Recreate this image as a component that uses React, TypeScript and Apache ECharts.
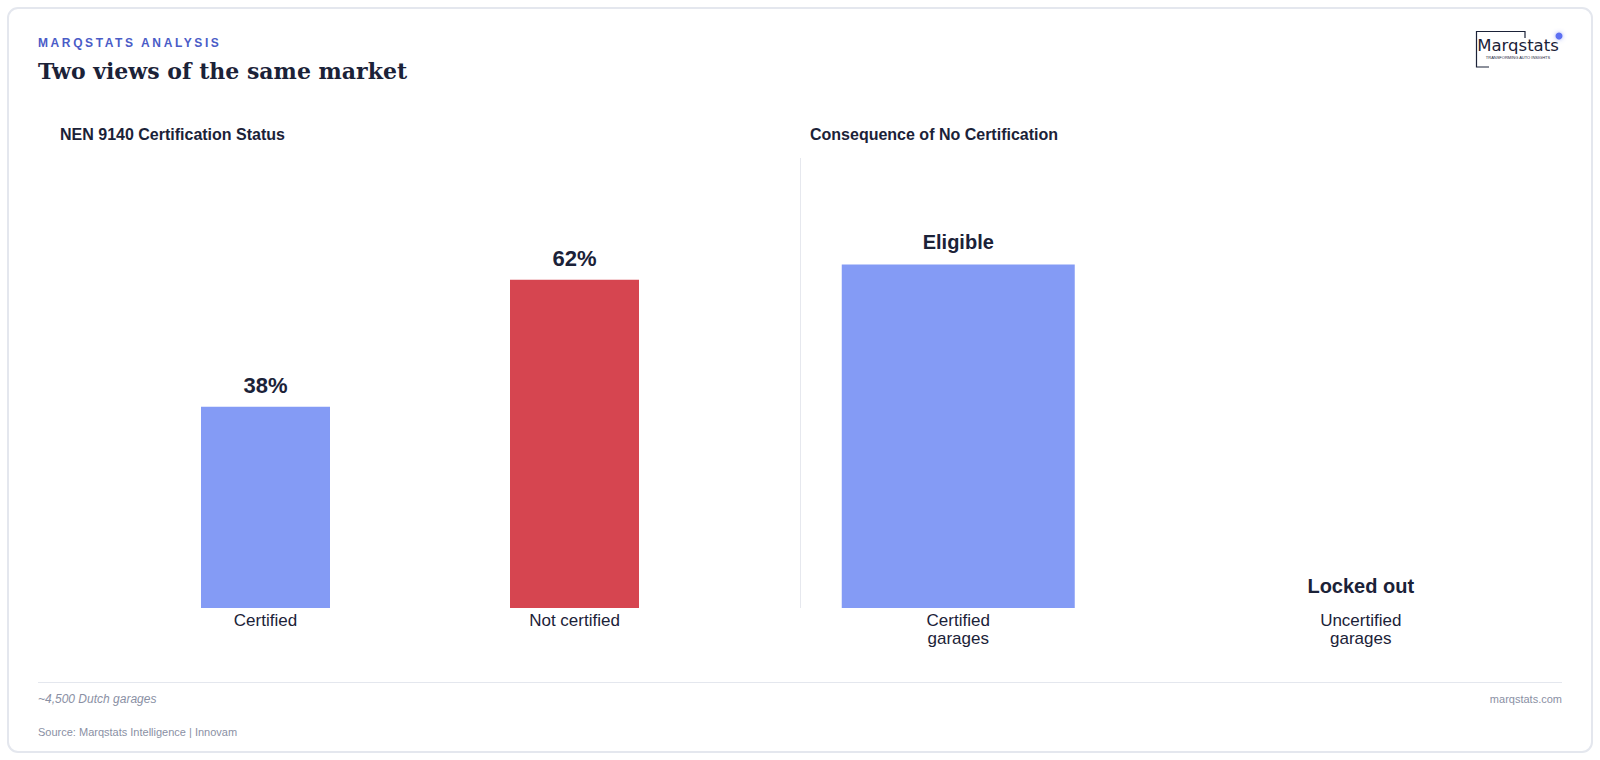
import React, { useEffect, useRef } from "react";
import * as echarts from "echarts";

const leftCategories = ["Certified", "Not certified"];
const leftValues = [38, 62];
const rightCategories = ["Certified\ngarages", "Uncertified\ngarages"];
const rightValues = [100, 0];
const rightLabels = ["Eligible", "Locked out"];

const BLUE = "#849BF5";
const RED = "#D64550";
const INK = "#1B2238";
const MUTED = "#8A90A4";
const SANS = "'Liberation Sans', Arial, sans-serif";

export default function App() {
  const ref = useRef<HTMLDivElement>(null);
  useEffect(() => {
    document.body.style.margin = "0";
    const chart = echarts.init(ref.current!, null, { renderer: "svg" });
    chart.setOption({
      animation: false,
      backgroundColor: "#ffffff",
      grid: [
        { left: 111, width: 618, top: 158, height: 450 },
        { left: 757, width: 805, top: 158, height: 450 },
      ],
      xAxis: [
        {
          type: "category",
          gridIndex: 0,
          data: leftCategories,
          axisLine: { show: false },
          axisTick: { show: false },
          axisLabel: { color: INK, fontSize: 17, fontFamily: SANS, margin: 3, lineHeight: 18 },
        },
        {
          type: "category",
          gridIndex: 1,
          data: rightCategories,
          axisLine: { show: false },
          axisTick: { show: false },
          axisLabel: { color: INK, fontSize: 17, fontFamily: SANS, margin: 3, lineHeight: 18 },
        },
      ],
      yAxis: [
        { type: "value", gridIndex: 0, min: 0, max: 85, show: false, splitLine: { show: false } },
        { type: "value", gridIndex: 1, min: 0, max: 131, show: false, splitLine: { show: false } },
      ],
      series: [
        {
          type: "bar",
          xAxisIndex: 0,
          yAxisIndex: 0,
          barWidth: 129,
          data: leftValues.map((v, i) => ({
            value: v,
            itemStyle: { color: i === 0 ? BLUE : RED },
          })),
          label: {
            show: true,
            position: "top",
            distance: 10,
            formatter: "{c}%",
            color: INK,
            fontSize: 22,
            fontWeight: "bold",
            fontFamily: SANS,
          },
        },
        {
          type: "bar",
          xAxisIndex: 1,
          yAxisIndex: 1,
          barWidth: 233,
          data: rightValues.map((v) => ({ value: v, itemStyle: { color: BLUE } })),
          label: {
            show: true,
            position: "top",
            distance: 12,
            formatter: (p: any) => rightLabels[p.dataIndex],
            color: INK,
            fontSize: 20,
            fontWeight: "bold",
            fontFamily: SANS,
          },
        },
      ],
      graphic: [
        {
          type: "rect",
          z: -10,
          shape: { x: 8, y: 8, width: 1584, height: 744, r: 10 },
          style: { fill: "#ffffff", stroke: "#E4E7EE", lineWidth: 2 },
          silent: true,
        },
        {
          type: "text",
          x: 38,
          y: 71,
          style: {
            text: "Two views of the same market",
            fill: INK,
            font: "bold 22px 'DejaVu Serif', serif",
            verticalAlign: "middle",
          },
        },
        {
          type: "text",
          x: 60,
          y: 134,
          style: {
            text: "NEN 9140 Certification Status",
            fill: INK,
            font: "bold 16px " + SANS,
            verticalAlign: "middle",
          },
        },
        {
          type: "text",
          x: 810,
          y: 134,
          style: {
            text: "Consequence of No Certification",
            fill: INK,
            font: "bold 16px " + SANS,
            verticalAlign: "middle",
          },
        },
        {
          type: "line",
          shape: { x1: 800.5, y1: 158, x2: 800.5, y2: 608 },
          style: { stroke: "#E6E8EE", lineWidth: 1 },
        },
        {
          type: "line",
          shape: { x1: 38, y1: 682.5, x2: 1562, y2: 682.5 },
          style: { stroke: "#E4E7EE", lineWidth: 1 },
        },
        {
          type: "text",
          x: 38,
          y: 699,
          style: {
            text: "~4,500 Dutch garages",
            fill: MUTED,
            font: "italic 12px " + SANS,
            verticalAlign: "middle",
          },
        },
        {
          type: "text",
          x: 1562,
          y: 699,
          style: {
            text: "marqstats.com",
            fill: MUTED,
            font: "11px " + SANS,
            align: "right",
            verticalAlign: "middle",
          },
        },
        {
          type: "text",
          x: 38,
          y: 732,
          style: {
            text: "Source: Marqstats Intelligence | Innovam",
            fill: MUTED,
            font: "11px " + SANS,
            verticalAlign: "middle",
          },
        },
        {
          type: "polyline",
          shape: { points: [[1525, 38], [1525, 31.5], [1476.5, 31.5], [1476.5, 67], [1489, 67]] },
          style: { stroke: INK, lineWidth: 1.2, fill: null },
        },
        {
          type: "text",
          x: 1518,
          y: 45,
          style: {
            text: "Marqstats",
            fill: INK,
            font: "normal 16.5px 'DejaVu Sans', sans-serif",
            align: "center",
            verticalAlign: "middle",
          },
        },
        {
          type: "text",
          x: 1518,
          y: 57,
          style: {
            text: "TRANSFORMING AUTO INSIGHTS",
            fill: INK,
            font: "4px " + SANS,
            align: "center",
            verticalAlign: "middle",
          },
        },
        {
          type: "circle",
          shape: { cx: 1559, cy: 36, r: 3.5 },
          style: { fill: "#5D6FF2", shadowBlur: 4, shadowColor: "rgba(93,111,242,0.6)" },
        },
      ],
    });
    return () => chart.dispose();
  }, []);
  return (
    <div style={{ position: "absolute", left: 0, top: 0, width: 1600, height: 760 }}>
      <div ref={ref} style={{ width: 1600, height: 760 }} />
      <div
        style={{
          position: "absolute",
          left: 38,
          top: 36,
          fontFamily: SANS,
          fontWeight: "bold",
          fontSize: 12,
          letterSpacing: "2.6px",
          color: "#4A5CC7",
          lineHeight: "14px",
        }}
      >
        MARQSTATS ANALYSIS
      </div>
    </div>
  );
}
